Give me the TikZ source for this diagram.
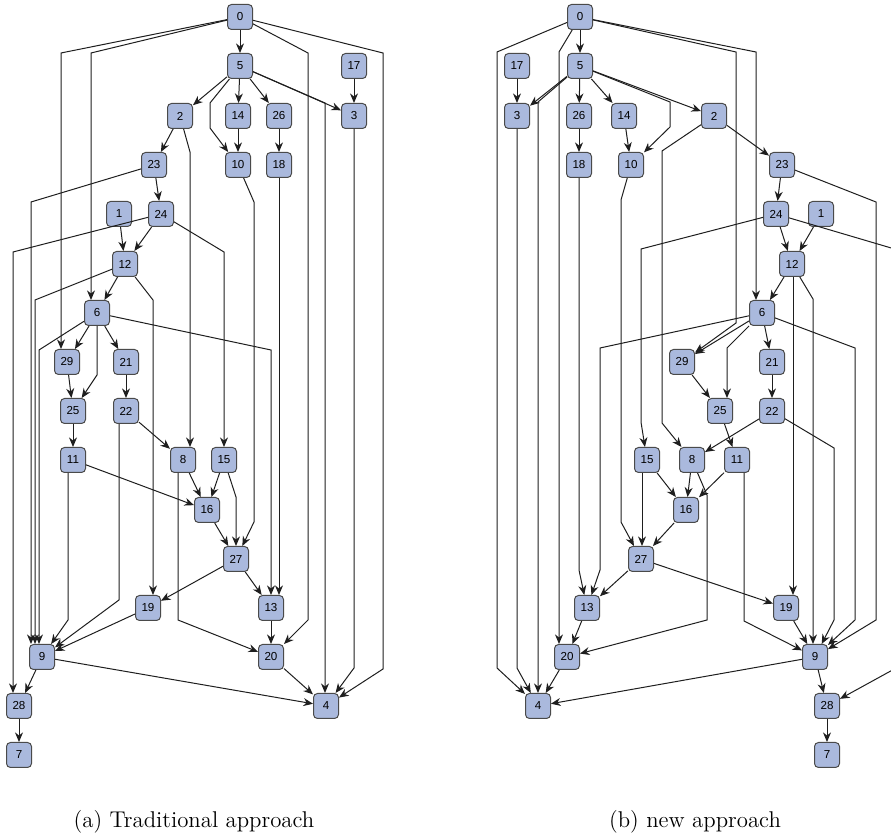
\documentclass[tikz,border=0pt]{standalone}
\usepackage{fontspec}
\newfontfamily\labelfont{Liberation Sans}
\usetikzlibrary{arrows.meta}
\definecolor{NodeFill}{HTML}{AAB9DD}
\definecolor{NodeEdge}{HTML}{4A4A4A}
\definecolor{Wire}{HTML}{1E1E1E}

\begin{document}
\begin{tikzpicture}[x=0.5pt,y=-0.5pt,
      task/.style={rounded corners=2pt,draw=NodeEdge,fill=NodeFill,line width=0.5pt,
                   minimum size=12.5pt,inner sep=0pt,
                   font=\labelfont\fontsize{5.8}{7}\selectfont},
      dep/.style={-{Stealth[length=4.8pt,width=4pt]},draw=Wire,line width=0.5pt},
      caption/.style={font=\fontsize{11.4}{13}\selectfont}]
    \useasboundingbox (0,0) rectangle (891,839);
    \clip (0,0) rectangle (891,839);

    % (a) traditional schedule
    \foreach \n/\x/\y in {0/240/17,5/240/66,17/354/66,2/180/116,14/238/116,
        26/279/116,3/354/116,23/154/165,10/238/165,18/279/165,1/119/214,
        24/161/214,12/125/264,6/97/313,29/67/362,21/126/362,25/73/411,
        22/126/411,11/73/460,8/183/460,15/224/460,16/207/510,27/236/559,
        19/148/608,13/271/608,9/42/657,20/271/657,28/19/706,4/326/706,7/19/755}{%
      \node[task] (a\n) at (\x,\y) {\n};
    }
    \foreach \s/\t in {0/5,5/2,5/14,5/26,5/3,17/3,2/23,14/10,26/18,23/24,1/12,
        24/12,12/6,6/29,6/21,29/25,21/22,25/11,22/8,11/16,8/16,15/16,16/27,
        27/19,27/13,19/9,13/20,9/28,9/4,20/4,28/7}{%
      \draw[dep] (a\s) -- (a\t);
    }
    \draw[dep] (a0) -- (61,53) -- (a29.north -| 61,0);
    \draw[dep] (a0) -- (91,53) -- (a6.north -| 91,0);
    \draw[dep] (a0) -- (308,53) -- (308,620) -- (a20);
    \draw[dep] (a0) -- (383,53) -- (383,669) -- (a4);
    \draw[dep] (a5) -- (210,103) -- (210,128) -- (a10);
    \draw[dep] (a5) -- (325,103) -- (a4.north -| 325,0);
    \draw[dep] (a2) -- (190,152) -- (a8.north -| 190,0);
    \draw[dep] (a10) -- (254,202) -- (254,522) -- (a27);
    \draw[dep] (a18) -- (a13.north -| a18);
    \draw[dep] (a3) -- (354,668) -- (a4);
    \draw[dep] (a23) -- (31,202) -- (a9.north -| 31,0);
    \draw[dep] (a24) -- (13,252) -- (a28.north -| 13,0);
    \draw[dep] (a24) -- (224,252) -- (a15);
    \draw[dep] (a12) -- (35,300) -- (a9.north -| 35,0);
    \draw[dep] (a12) -- (153,300) -- (a19.north -| 153,0);
    \draw[dep] (a6) -- (39,350) -- (a9.north -| 39,0);
    \draw[dep] (a6) -- (97,375) -- (a25);
    \draw[dep] (a6) -- (271,350) -- (a13);
    \draw[dep] (a22.south -| 119,0) -- (119,600) -- (a9);
    \draw[dep] (a11.south -| 68,0) -- (68,620) -- (a9);
    \draw[dep] (a8.south -| 178,0) -- (178,620) -- (a20);
    \draw[dep] (a15) -- (236,497) -- (a27);
    \node[caption] (capA) at (194,822) {(a) Traditional approach};

    % (b) new schedule
    \foreach \n/\x/\y in {0/580/17,17/517/66,5/580/66,3/517/116,26/579/116,
        14/624/116,2/714/116,18/579/165,10/631/165,23/782/165,24/776/214,
        1/821/214,12/792/264,6/762/313,29/682/362,21/772/362,25/720/411,
        22/772/411,15/647/460,8/692/460,11/737/460,16/686/510,27/641/559,
        13/587/608,19/786/608,20/567/657,9/815/657,4/538/706,28/827/706,7/827/755}{%
      \node[task] (b\n) at (\x,\y) {\n};
    }
    \foreach \s/\t in {0/5,17/3,5/3,5/26,5/14,5/2,26/18,14/10,2/23,23/24,24/12,
        1/12,12/6,6/29,6/21,29/25,21/22,25/11,22/8,15/16,8/16,11/16,16/27,
        27/13,27/19,13/20,19/9,9/4,9/28,20/4,28/7}{%
      \draw[dep] (b\s) -- (b\t);
    }
    \draw[dep] (b0) -- (497,52) -- (497,668) -- (b4);
    \draw[dep] (b0) -- (559,52) -- (b20.north -| 559,0);
    \draw[dep] (b0) -- (736,52) -- (736,323) -- (b29);
    \draw[dep] (b0) -- (756,52) -- (b6.north -| 756,0);
    \draw[dep] (b5) -- (538,102) -- (b4.north -| 538,0);
    \draw[dep] (b5) -- (670,102) -- (670,127) -- (b10);
    \draw[dep] (b3) -- (517,668) -- (b4);
    \draw[dep] (b18) -- (579,570) -- (b13);
    \draw[dep] (b10) -- (621,200) -- (621,522) -- (b27);
    \draw[dep] (b2) -- (662,151) -- (662,423) -- (b8);
    \draw[dep] (b23) -- (876,202) -- (876,620) -- (b9);
    \draw[dep] (b24) -- (641,249) -- (641,422) -- (b15);
    \draw[dep] (b24) -- (898,250) -- (898,667) -- (b28);
    \draw[dep] (b12.south -| 793,0) -- (b19.north -| 793,0);
    \draw[dep] (b12) -- (813,299) -- (b9.north -| 813,0);
    \draw[dep] (b6) -- (600,348) -- (600,570) -- (b13);
    \draw[dep] (b6) -- (727,348) -- (b25.north -| 727,0);
    \draw[dep] (b6) -- (855,348) -- (855,620) -- (b9);
    \draw[dep] (b22) -- (834,448) -- (834,620) -- (b9);
    \draw[dep] (b8) -- (707,495) -- (707,620) -- (b20);
    \draw[dep] (b11.south -| 744,0) -- (744,621) -- (b9);
    \draw[dep] (b15.south -| 642,0) -- (b27.north -| 642,0);
    \node[caption] (capB) at (695,822) {(b) new approach};
\end{tikzpicture}
\end{document}
